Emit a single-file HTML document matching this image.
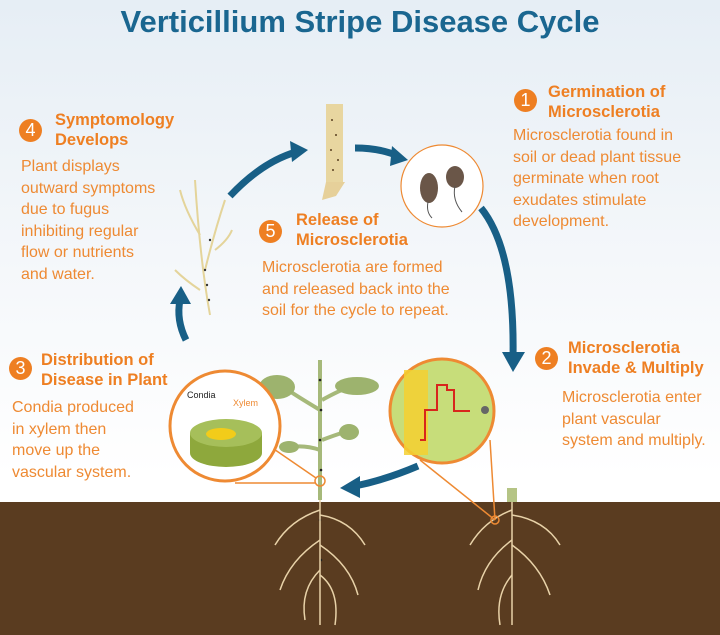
<!DOCTYPE html>
<html><head><meta charset="utf-8"><style>
body{margin:0;width:720px;height:635px;overflow:hidden;position:relative;font-family:"Liberation Sans",sans-serif;background:linear-gradient(#e6eef5 0%,#f4f7fa 40%,#fff 75%);}
.t{position:absolute;color:#ee8a33;font-size:16px;line-height:21.5px;white-space:nowrap}
.h{position:absolute;color:#ee7f22;font-weight:bold;font-size:16.5px;line-height:20px;white-space:nowrap}
.n{position:absolute;width:23px;height:23px;border-radius:50%;background:#ee7f22;color:#fff;font-size:18px;line-height:23px;text-align:center}
svg{position:absolute;left:0;top:0}
</style></head><body>
<svg width="720" height="635" viewBox="0 0 720 635">
<rect x="0" y="502" width="720" height="133" fill="#5a3c20"/>
<g fill="none" stroke="#185f86" stroke-width="7">
<path d="M186 340 Q176 320 180 300"/>
<path d="M230 196 Q262 162 296 152"/>
<path d="M355 148 Q380 148 398 156"/>
<path d="M481 208 Q515 250 513 358"/>
<path d="M418 466 Q385 480 355 486"/>
</g>
<g fill="#185f86">
<polygon points="170,304 181,286 191,304"/>
<polygon points="290,141 308,150 292,162"/>
<polygon points="392,146 408,160 390,166"/>
<polygon points="502,352 513,372 525,352"/>
<polygon points="360,476 340,488 360,498"/>
</g>
<!-- stalk piece -->
<rect x="326" y="104" width="17" height="78" fill="#e8d6a0"/>
<g fill="#5a4020"><circle cx="332" cy="120" r="1"/><circle cx="336" cy="135" r="1"/><circle cx="331" cy="150" r="1"/><circle cx="338" cy="160" r="1"/><circle cx="333" cy="170" r="1"/></g>
<path d="M326 182 L322 200 L336 196 L345 182Z" fill="#e6d09a"/>
<!-- microsclerotia circle -->
<circle cx="442" cy="186" r="41" fill="#fff" stroke="#ee8a33" stroke-width="1.2"/>
<ellipse cx="429" cy="188" rx="9" ry="15" fill="#6a5648"/>
<ellipse cx="455" cy="177" rx="9" ry="11" fill="#6a5648"/>
<path d="M428 202 Q426 212 432 218 M455 186 Q452 200 462 212" stroke="#555" fill="none"/>
<!-- dead plant -->
<g stroke="#e4d49a" stroke-width="2" fill="none">
<path d="M210 315 Q200 260 195 180"/><path d="M205 270 Q215 230 225 200"/><path d="M200 235 Q185 210 180 190"/><path d="M200 290 Q185 280 175 270"/><path d="M215 250 Q228 240 232 230"/></g>
<g fill="#333"><circle cx="205" cy="270" r="1.2"/><circle cx="207" cy="285" r="1.2"/><circle cx="209" cy="300" r="1.2"/><circle cx="210" cy="240" r="1.2"/></g>
<!-- healthy plant -->
<g stroke="#a6b97a" stroke-width="4" fill="none"><path d="M320 500 L320 360"/><path d="M320 410 Q295 395 285 388"/><path d="M322 400 Q340 390 352 386"/><path d="M320 450 Q305 445 292 447"/><path d="M322 440 Q335 435 345 432"/></g>
<ellipse cx="277" cy="387" rx="18" ry="12" fill="#9db36e"/><ellipse cx="357" cy="386" rx="22" ry="9" fill="#9db36e"/><ellipse cx="289" cy="447" rx="10" ry="6" fill="#9db36e"/><ellipse cx="349" cy="432" rx="10" ry="8" fill="#9db36e"/>
<g fill="#222"><circle cx="320" cy="380" r="1.3"/><circle cx="321" cy="410" r="1.3"/><circle cx="320" cy="440" r="1.3"/><circle cx="321" cy="470" r="1.3"/><circle cx="320" cy="520" r="1.3"/><circle cx="321" cy="560" r="1.3"/></g>
<g stroke="#e8d2a8" stroke-width="1.5" fill="none">
<path d="M320 500 L320 625"/><path d="M320 510 Q290 520 275 545"/><path d="M320 515 Q350 520 365 545"/><path d="M320 540 Q290 560 280 590"/><path d="M320 545 Q350 565 358 595"/><path d="M320 570 Q300 590 305 620"/><path d="M320 575 Q340 590 335 625"/>
<path d="M512 500 L512 625"/><path d="M512 510 Q485 520 470 545"/><path d="M512 515 Q545 520 560 545"/><path d="M512 540 Q485 560 478 590"/><path d="M512 545 Q540 565 550 595"/><path d="M512 575 Q495 595 500 625"/></g>
<rect x="507" y="488" width="10" height="14" fill="#b5c485"/>
<!-- zoom circle left -->
<path d="M235 483 L316 483 M268 445 L316 478" stroke="#ee8a33" stroke-width="1.5" fill="none"/>
<circle cx="320" cy="481" r="5" fill="none" stroke="#ee8a33" stroke-width="1.5"/>
<circle cx="225" cy="426" r="55" fill="#fff" stroke="#ee8a33" stroke-width="3"/>
<path d="M190 433 L190 453 A36 14 0 0 0 262 453 L262 433Z" fill="#8ea83c"/>
<ellipse cx="226" cy="433" rx="36" ry="14" fill="#a6bf5a"/>
<ellipse cx="221" cy="434" rx="15" ry="6" fill="#f2cc1a"/>
<text x="187" y="398" font-size="9" fill="#222">Condia</text><text x="233" y="406" font-size="9" fill="#ee8a33">Xylem</text>
<!-- zoom circle right -->
<path d="M420 460 L495 520 M490 440 L495 520" stroke="#ee8a33" stroke-width="1.5" fill="none"/>
<circle cx="495" cy="520" r="4" fill="none" stroke="#ee8a33" stroke-width="1.5"/>
<circle cx="442" cy="411" r="52" fill="#c7dd7a" stroke="#ee8a33" stroke-width="3"/>
<rect x="404" y="370" width="24" height="85" fill="#f5d030" opacity="0.85"/>
<path d="M420 440 L425 440 L425 410 L437 410 L437 385 L447 385 L447 390 L454 390 L454 411 L470 411" stroke="#d8261c" stroke-width="2" fill="none"/>
<circle cx="485" cy="410" r="4" fill="#666"/>
</svg>
<div style="position:absolute;left:0;top:3px;width:720px;text-align:center;font-weight:bold;font-size:31px;color:#1a6690;line-height:38px">Verticillium Stripe Disease Cycle</div>

<div class="n" style="left:19px;top:119px">4</div>
<div class="h" style="left:55px;top:110px">Symptomology<br>Develops</div>
<div class="t" style="left:21px;top:156px">Plant displays<br>outward symptoms<br>due to fugus<br>inhibiting regular<br>flow or nutrients<br>and water.</div>

<div class="n" style="left:9px;top:357px">3</div>
<div class="h" style="left:41px;top:350px">Distribution of<br>Disease in Plant</div>
<div class="t" style="left:12px;top:397px">Condia produced<br>in xylem then<br>move up the<br>vascular system.</div>

<div class="n" style="left:514px;top:89px">1</div>
<div class="h" style="left:548px;top:82px">Germination of<br>Microsclerotia</div>
<div class="t" style="left:513px;top:125px">Microsclerotia found in<br>soil or dead plant tissue<br>germinate when root<br>exudates stimulate<br>development.</div>

<div class="n" style="left:535px;top:347px">2</div>
<div class="h" style="left:568px;top:338px">Microsclerotia<br>Invade &amp; Multiply</div>
<div class="t" style="left:562px;top:387px">Microsclerotia enter<br>plant vascular<br>system and multiply.</div>

<div class="n" style="left:259px;top:220px">5</div>
<div class="h" style="left:296px;top:210px">Release of<br>Microsclerotia</div>
<div class="t" style="left:262px;top:257px">Microsclerotia are formed<br>and released back into the<br>soil for the cycle to repeat.</div>
</body></html>
